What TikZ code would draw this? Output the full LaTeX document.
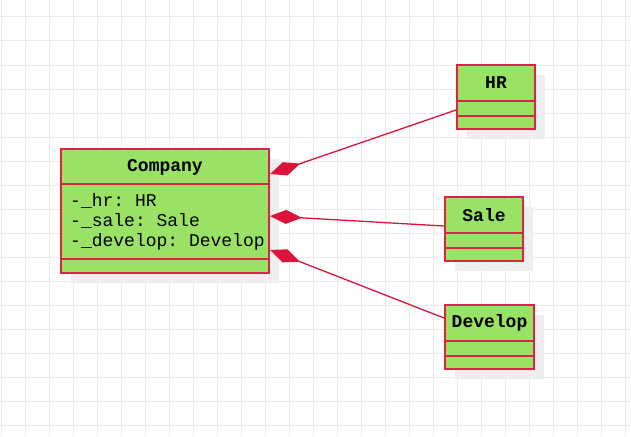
\documentclass[tikz,border=0pt]{standalone}
\usepackage{fontspec}
\setmonofont{Liberation Mono}
\usetikzlibrary{arrows.meta}
\definecolor{bord}{HTML}{DC2346}
\definecolor{fillg}{HTML}{99E265}
\definecolor{gridc}{HTML}{EBEBEB}
\definecolor{shad}{HTML}{EEEEEE}
\definecolor{conn}{HTML}{DC143C}
\tikzset{
  umlbox/.style={draw=bord, fill=fillg, line width=1.5pt},
  divider/.style={draw=bord, line width=1.5pt},
  shadowbox/.style={fill=shad},
  titletext/.style={font=\fontsize{18}{20}\selectfont\ttfamily\bfseries, inner sep=0pt},
  attrtext/.style={font=\fontsize{18}{20}\selectfont\ttfamily, inner sep=0pt, anchor=west},
  compo/.style={draw=conn, line width=1.3pt, {Diamond[length=32pt,width=14pt,fill=conn]}-}
}
\begin{document}
\begin{tikzpicture}[x=1pt,y=-1pt]
\useasboundingbox (0,0) rectangle (631,436);
\fill[white] (0,0) rectangle (631,436);
\foreach \x in {1,25,...,625} \draw[gridc, line width=1pt] (\x,0) -- (\x,436);
\foreach \y in {17,41,...,425} \draw[gridc, line width=1pt] (0,\y) -- (631,\y);

% shadows
\fill[shadowbox] (71,159) rectangle (279,283);
\fill[shadowbox] (467,75) rectangle (545,139);
\fill[shadowbox] (455,207) rectangle (533,271);
\fill[shadowbox] (455,315) rectangle (544,379);

% Company
\path[umlbox] (61,149) rectangle (269,273);
\path[divider] (61,184) -- (269,184);
\path[divider] (61,259) -- (269,259);
\node[titletext] (company) at (165,167) {Company};
\node[attrtext] (a1) at (70,201) {-\_hr: HR};
\node[attrtext] (a2) at (70,221) {-\_sale: Sale};
\node[attrtext] (a3) at (70,241.5) {-\_develop: Develop};

% HR
\path[umlbox] (457,65) rectangle (535,129);
\path[divider] (457,101) -- (535,101);
\path[divider] (457,116) -- (535,116);
\node[titletext] (hr) at (496,83) {HR};

% Sale
\path[umlbox] (445,197) rectangle (523,261);
\path[divider] (445,233) -- (523,233);
\path[divider] (445,248) -- (523,248);
\node[titletext] (sale) at (484,215) {Sale};

% Develop
\path[umlbox] (445,305) rectangle (534,369);
\path[divider] (445,341) -- (534,341);
\path[divider] (445,356) -- (534,356);
\node[titletext] (develop) at (489.5,323) {Develop};

% connector ends
\coordinate (cHR) at (270,174);
\coordinate (cSale) at (270,216);
\coordinate (cDev) at (270,250);
\coordinate (eHR) at (456,110);
\coordinate (eSale) at (444,226);
\coordinate (eDev) at (444,318);

\draw[compo] (cHR) -- (eHR);
\draw[compo] (cSale) -- (eSale);
\draw[compo] (cDev) -- (eDev);
\end{tikzpicture}
\end{document}
